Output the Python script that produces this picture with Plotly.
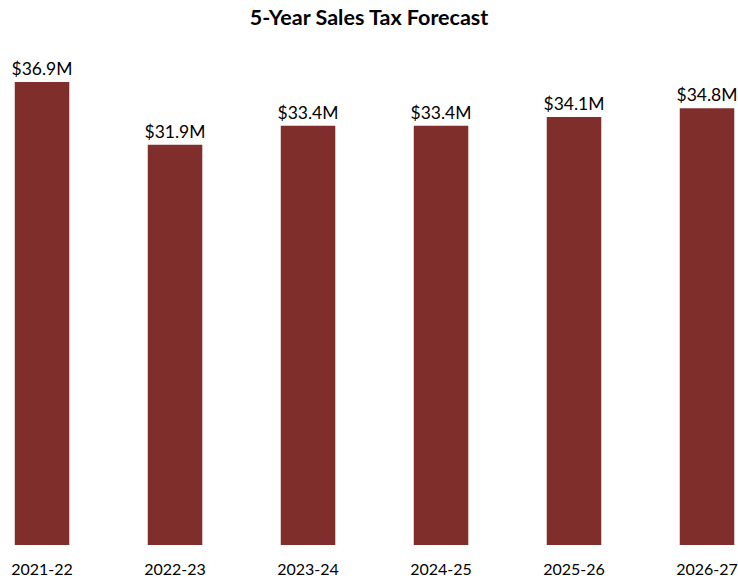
import plotly.graph_objects as go

years = ["2021-22", "2022-23", "2023-24", "2024-25", "2025-26", "2026-27"]
values = [36.9, 31.9, 33.4, 33.4, 34.1, 34.8]
labels = ["$36.9M", "$31.9M", "$33.4M", "$33.4M", "$34.1M", "$34.8M"]

fig = go.Figure(go.Bar(
    x=years, y=values, text=labels, textposition="outside",
    marker=dict(color="#7f2e2c", line=dict(width=0)),
    width=0.41, cliponaxis=False, constraintext="none",
    textfont=dict(size=17.5, color="#000000", family="Lato"),
))

fig.update_layout(
    width=738, height=579,
    margin=dict(l=0, r=0, t=50, b=34, autoexpand=False),
    paper_bgcolor="white", plot_bgcolor="white",
    title=dict(text="<b>5-Year Sales Tax Forecast</b>", x=0.5, xanchor="center",
               y=0.97, yanchor="middle",
               font=dict(size=21.5, color="#000000", family="Lato")),
    font=dict(family="Lato", color="#000000"),
    showlegend=False,
    xaxis=dict(range=[-0.316, 5.233], showgrid=False, showline=False, zeroline=False,
               automargin=False,
               ticks="outside", ticklen=10, tickcolor="white",
               tickfont=dict(size=16, color="#000000")),
    yaxis=dict(range=[0, 39.44], visible=False, showgrid=False, zeroline=False,
               automargin=False),
)

fig.write_html("out.html", config={"displayModeBar": False},
               post_script="document.body.style.margin='0';document.body.style.overflow='hidden';")
